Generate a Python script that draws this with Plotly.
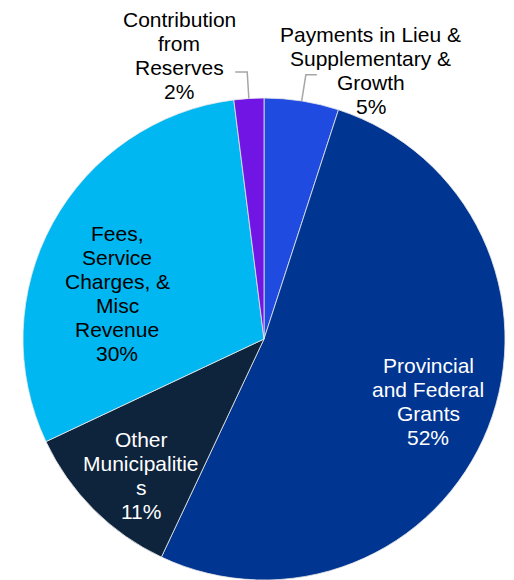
import math
import plotly.graph_objects as go

# Revenue sources, in order clockwise from 12 o'clock
categories = [
    "Payments in Lieu & Supplementary & Growth",
    "Provincial and Federal Grants",
    "Other Municipalities",
    "Fees, Service Charges, & Misc Revenue",
    "Contribution from Reserves",
]
shares = [5, 52, 11, 30, 2]

# Wrapped label lines as they appear on the chart
label_lines = [
    ["Payments in Lieu &", "Supplementary &", "Growth"],
    ["Provincial", "and Federal", "Grants"],
    ["Other", "Municipalitie", "s"],
    ["Fees,", "Service", "Charges, &", "Misc", "Revenue"],
    ["Contribution", "from", "Reserves"],
]

colors = ["#1F4BE0", "#003591", "#0E233C", "#00B7F1", "#7115E5"]
text_colors = ["#000000", "#FFFFFF", "#FFFFFF", "#000000", "#000000"]
# label placement: (radius as fraction of pie radius, angle nudge in degrees)
label_place = [(1.197, 12.7), (0.729, -0.6), (0.761, -2.9), (0.636, -11.7), (1.229, -13.0)]
outside = [True, False, False, False, True]

W, H = 514, 580
CX, CY, R = 264, 339, 241  # pie centre and radius in pixels
FONT = "Liberation Sans, Arial, sans-serif"
FS = 21
LINE_H = 24

fig = go.Figure(
    go.Pie(
        labels=categories,
        values=shares,
        sort=False,
        direction="clockwise",
        rotation=0,
        marker=dict(colors=colors, line=dict(color="#E8E8E8", width=0.8)),
        textinfo="none",
        hoverinfo="skip",
        domain=dict(x=[(CX - R) / W, (CX + R) / W], y=[(H - CY - R) / H, (H - CY + R) / H]),
        showlegend=False,
    )
)

total = sum(shares)
annotations = []
shapes = []
cum = 0.0
for i, v in enumerate(shares):
    mid = (cum + v / 2) / total * 360.0
    cum += v
    pct = f"{round(v / total * 100)}%"
    lines = label_lines[i] + [pct]
    rf, nudge = label_place[i]
    a = math.radians(mid + nudge)
    lx = CX + rf * R * math.sin(a)
    ly = CY - rf * R * math.cos(a)
    n = len(lines)
    for k, t in enumerate(lines):
        annotations.append(
            dict(
                x=lx / W, y=1 - ly / H, xref="paper", yref="paper",
                text=t, showarrow=False, xanchor="center", yanchor="middle",
                yshift=-(k - (n - 1) / 2) * LINE_H,
                font=dict(family=FONT, size=FS, color=text_colors[i]),
            )
        )
    if outside[i]:
        am = math.radians(mid)
        x0, y0 = CX + R * math.sin(am), CY - R * math.cos(am)
        x1, y1 = CX + 1.11 * R * math.sin(am), CY - 1.11 * R * math.cos(am)
        x2 = x1 + (11 if lx > x1 else -12)
        shapes.append(
            dict(
                type="path", xref="paper", yref="paper",
                path=f"M {x0 / W},{1 - y0 / H} L {x1 / W},{1 - y1 / H} L {x2 / W},{1 - y1 / H}",
                line=dict(color="#A6A6A6", width=1.5),
            )
        )

fig.update_layout(
    width=W, height=H,
    margin=dict(l=0, r=0, t=0, b=0),
    paper_bgcolor="white", plot_bgcolor="white",
    annotations=annotations, shapes=shapes,
)

fig.write_html("out.html")
